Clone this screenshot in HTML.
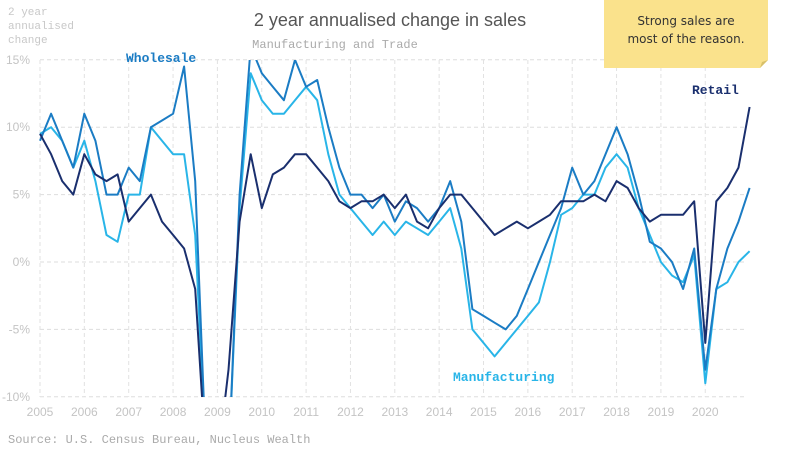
<!DOCTYPE html>
<html><head><meta charset="utf-8"><style>
body{margin:0;background:#fff;}
svg{display:block;font-family:"Liberation Sans",sans-serif;}
.mono{font-family:"Liberation Mono",monospace;}
</style></head><body>
<svg id="chart" width="792" height="451">
<defs><clipPath id="clip"><rect x="30" y="60" width="730" height="337"/></clipPath></defs>
<text x="8" y="15" class="mono" font-size="11" fill="#c8c8c8"><tspan x="8">2 year</tspan><tspan x="8" dy="14">annualised</tspan><tspan x="8" dy="14">change</tspan></text>
<text x="390" y="26" text-anchor="middle" font-size="18" fill="#555">2 year annualised change in sales</text>
<text x="335" y="48" text-anchor="middle" class="mono" font-size="12" fill="#aaa">Manufacturing and Trade</text>
<g id="grid"></g><g id="axes"></g>
<g id="series" clip-path="url(#clip)"></g>
<text x="126" y="62" class="mono" font-weight="bold" font-size="13" fill="#1b7cc4">Wholesale</text>
<text x="692" y="94" class="mono" font-weight="bold" font-size="13" fill="#1a2f6e">Retail</text>
<text x="453" y="381" class="mono" font-weight="bold" font-size="13" fill="#29b5e8">Manufacturing</text>
<text x="8" y="443" class="mono" font-size="12" fill="#aaa">Source: U.S. Census Bureau, Nucleus Wealth</text>
<g>
<path d="M604 0 H768 V60 L760 68 H604 Z" fill="#fae28c"/>
<path d="M760 68 L762 62 L768 60 Z" fill="#d8c06a"/>
<text x="686" y="25" text-anchor="middle" font-family="DejaVu Sans,sans-serif" font-size="12" fill="#333"><tspan x="686">Strong sales are</tspan><tspan x="686" dy="18">most of the reason.</tspan></text>
</g>
</svg>
<script>
const years=[2005,2006,2007,2008,2009,2010,2011,2012,2013,2014,2015,2016,2017,2018,2019,2020];
const yTicks=[15,10,5,0,-5,-10];
const yTickLabels=["15%","10%","5%","0%","-5%","-10%"];
const startYear=2005;
const retail=[9.5,8,6,5,8,6.5,6,6.5,3,4,5,3,2,1,-2,-15,-15,-8,3,8,4,6.5,7,8,8,7,6,4.5,4,4.5,4.5,5,4,5,3,2.5,4,5,5,4,3,2,2.5,3,2.5,3,3.5,4.5,4.5,4.5,5,4.5,6,5.5,4,3,3.5,3.5,3.5,4.5,-6,4.5,5.5,7,11.5];
const wholesale=[9,11,9,7,11,9,5,5,7,6,10,10.5,11,14.5,6,-15,-15,-15,5,16,14,13,12,15,13,13.5,10,7,5,5,4,5,3,4.5,4,3,4,6,3,-3.5,-4,-4.5,-5,-4,-2,0,2,4,7,5,6,8,10,8,5,1.5,1,0,-2,1,-8,-2,1,3,5.5];
const manufacturing=[9.5,10,9,7,9,6,2,1.5,5,5,10,9,8,8,2,-15,-15,-15,4,14,12,11,11,12,13,12,8,5,4,3,2,3,2,3,2.5,2,3,4,1,-5,-6,-7,-6,-5,-4,-3,0,3.5,4,5,5,7,8,7,4,2,0,-1,-1.5,0.5,-9,-2,-1.5,0,0.8];
const NS="http://www.w3.org/2000/svg";
const x=t=>40+(t-2005)*44.35;
const y=v=>262-v*13.48;
const grid=document.getElementById('grid'),axes=document.getElementById('axes'),ser=document.getElementById('series');
function mk(tag,attrs,parent){const e=document.createElementNS(NS,tag);for(const k in attrs)e.setAttribute(k,attrs[k]);parent.appendChild(e);return e;}
yTicks.forEach((v,i)=>{
 const l=mk('line',{x1:40,x2:745,y1:y(v),y2:y(v),stroke:'#ddd','stroke-dasharray':'4,3'},grid);
 
 
 const t=mk('text',{x:30,y:y(v)+4,'text-anchor':'end','font-size':12,fill:'#c4c4c4'},axes);
 t.textContent=yTickLabels[i];
 
 
});
years.forEach(yr=>{
 const l=mk('line',{x1:x(yr),x2:x(yr),y1:60,y2:397,stroke:'#e2e2e2','stroke-dasharray':'4,3'},grid);
 
 
 const t=mk('text',{x:x(yr),y:416,'text-anchor':'middle','font-size':12,fill:'#c4c4c4'},axes);
 t.textContent=yr;
 
 
});
function line(arr,color,name){
 const d=arr.map((v,i)=>(i?'L':'M')+x(startYear+i*0.25).toFixed(1)+' '+y(v).toFixed(1)).join(' ');
 const p=mk('path',{d:d,fill:'none',stroke:color,'stroke-width':2,'stroke-linejoin':'round'},ser);
 
 
}
line(manufacturing,'#29b5e8','manufacturing-line');
line(wholesale,'#1b7cc4','wholesale-line');
line(retail,'#1a2f6e','retail-line');
</script>
</body></html>
